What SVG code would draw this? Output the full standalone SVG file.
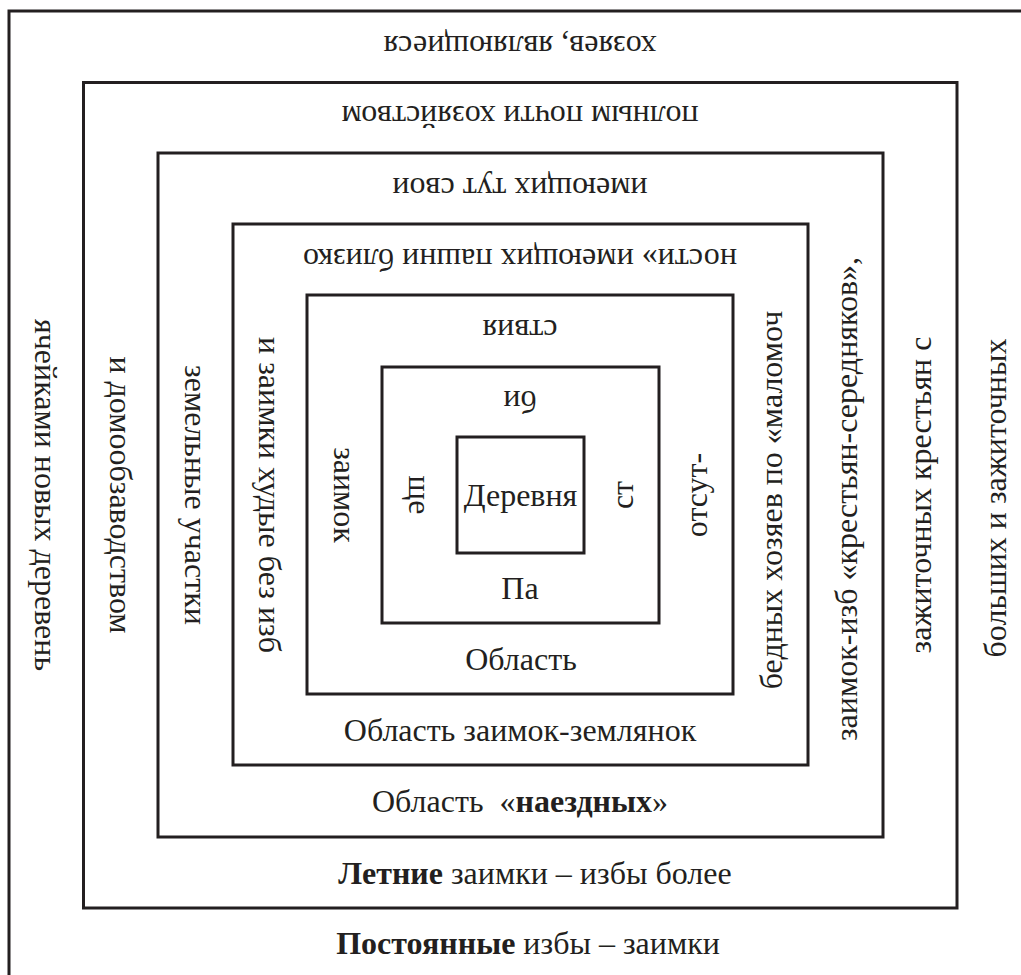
<svg xmlns="http://www.w3.org/2000/svg" width="1021" height="975" viewBox="0 0 1021 975">
<style>
rect.b{fill:none;stroke:#231f20;stroke-width:3}
text{font-family:"Liberation Serif","Times New Roman",serif;font-size:32px;fill:#231f20;text-anchor:middle;dominant-baseline:central}
.bd{font-weight:bold}
</style>
<rect width="1021" height="975" fill="#ffffff"/>
<g id="layer1">
<rect class="b" x="9" y="11" width="1060" height="1020"/>
<text x="528" y="943"><tspan class="bd">Постоянные</tspan> избы – заимки</text>
<text transform="translate(995,498) rotate(-90)">больших и зажиточных</text>
<text transform="translate(520,47) rotate(180)">хозяев, являющиеся</text>
<text transform="translate(46,495) rotate(90)">ячейками новых деревень</text>
</g>
<g id="layer2">
<rect class="b" x="83.5" y="82.5" width="873.5" height="825.5"/>
<text x="535" y="873"><tspan class="bd">Летние</tspan> заимки – избы более</text>
<text transform="translate(920,495) rotate(-90)">зажиточных крестьян с</text>
<text transform="translate(520,117) rotate(180)">полным почти хозяйством</text>
<text transform="translate(121,495) rotate(90)">и домообзаводством</text>
</g>
<g id="layer3">
<rect class="b" x="158" y="153" width="725" height="684"/>
<text x="520" y="801">Область &#160;«<tspan class="bd">наездных</tspan>»</text>
<text transform="translate(845.5,499) rotate(-90)">заимок-изб «крестьян-середняков»,</text>
<text transform="translate(520,188.5) rotate(180)">имеющих тут свои</text>
<text transform="translate(195.5,495) rotate(90)">земельные участки</text>
</g>
<g id="layer4">
<rect class="b" x="233" y="224" width="575" height="541"/>
<text x="520" y="729.5">Область заимок-землянок</text>
<text transform="translate(770.5,500) rotate(-90)">бедных хозяев по «маломоч</text>
<text transform="translate(520,259.5) rotate(180)">ности» имеющих пашни близко</text>
<text transform="translate(270,495) rotate(90)">и заимки худые без изб</text>
</g>
<g id="layer5">
<rect class="b" x="307" y="295" width="426" height="399"/>
<text x="521" y="659">Область</text>
<text transform="translate(696,495) rotate(-90)">отсут-</text>
<text transform="translate(520,331) rotate(180)">ствия</text>
<text transform="translate(344.5,495) rotate(90)">заимок</text>
</g>
<g id="layer6">
<rect class="b" x="382" y="367" width="277" height="256"/>
<text x="520" y="588">Па</text>
<text transform="translate(621.5,495) rotate(-90)">ст</text>
<text transform="translate(520,402) rotate(180)">би</text>
<text transform="translate(419.5,495) rotate(90)">ще</text>
</g>
<g id="village">
<rect class="b" x="457" y="437" width="127" height="116"/>
<text x="520.5" y="495">Деревня</text>
</g>
<g id="connectors"/>
</svg>
